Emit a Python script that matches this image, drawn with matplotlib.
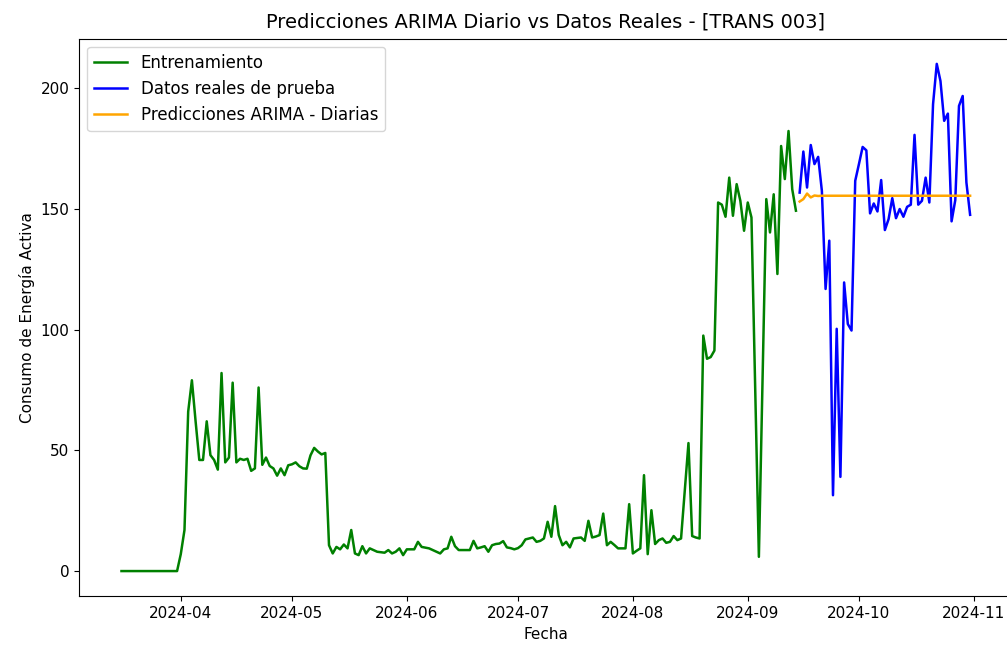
import matplotlib
matplotlib.use("Agg")
import matplotlib.pyplot as plt
import matplotlib.dates as mdates
import pandas as pd

train_start = "2024-03-16"
test_start = "2024-09-15"

train_values = [
    0, 0, 0, 0, 0, 0, 0, 0, 0, 0, 0, 0, 0, 0, 0, 0,
    7, 17, 66, 79, 62, 46, 46, 62, 48, 46, 42, 82, 45, 47, 78, 45,
    46.5, 46, 46.5, 41.5, 42.5, 76, 44, 47, 43.5, 42.5, 39.5, 42.5, 39.7, 43.8,
    44.2, 45, 43.4, 42.5, 42.4, 47.9, 51, 49.5, 48.3, 48.9,
    10.7, 7.3, 10, 9, 11, 9.4, 17, 7.3, 6.6, 10.3, 7.3, 9.4, 8.7, 8, 7.8, 7.6,
    8.7, 7.3, 8, 9.4, 6.6, 9, 9, 9, 12.1, 10, 9.7, 9.4, 8.7, 8, 7.3, 9, 9.4,
    14.2, 10.3, 8.7, 8.7, 8.7, 8.7, 12.5, 9.4, 9.8, 10.3, 8, 10.7, 11.2, 11.4,
    12.4, 9.8, 9.5, 9, 9.5, 10.7, 13.1, 13.5, 13.9, 12.1, 12.5, 13.5, 20.4,
    14.2, 26.9, 14.9, 10.7, 12.1, 9.8, 13.5, 13.7, 13.9, 12.5, 20.8, 13.9,
    14.3, 14.9, 23.8, 10.7, 12.1, 10.8, 9.4, 9.4, 9.4, 27.7, 7.3, 8.4, 9.4,
    39.7, 7, 25.2, 11.2, 12.8, 13.5, 11.7, 12.1, 14.5, 12.8, 13.5, 33, 53,
    14.5, 13.9, 13.5, 97.5, 87.9, 88.6, 91.3, 152.6, 151.7, 146.7, 162.9,
    147.1, 160.2, 153.3, 140.9, 152.6, 146.4, 76, 5.9, 80, 154, 140.2, 156,
    123, 176, 162.3, 182.2, 158.1, 149.2,
]

test_values = [
    156.7, 173.7, 158.8, 176.4, 168.5, 171.5, 157.4, 116.8, 136.8, 31.4,
    100.3, 39.0, 119.5, 102.3, 99.6, 161.6, 168.5, 175.6, 174.2, 148.1,
    152.2, 148.9, 161.9, 141.2, 145.7, 154.4, 146.1, 149.9, 146.7, 150.8,
    151.7, 180.6, 151.7, 153.3, 162.9, 152.6, 193.3, 210.0, 202.9, 186.4,
    189.4, 144.8, 153.6, 192.6, 196.7, 160.9, 147.5,
]

pred_values = [
    153.0, 154.0, 156.3, 154.7, 155.5, 155.3, 155.4, 155.4, 155.4, 155.4,
    155.4, 155.4, 155.4, 155.4, 155.4, 155.4, 155.4, 155.4, 155.4, 155.4,
    155.4, 155.4, 155.4, 155.4, 155.4, 155.4, 155.4, 155.4, 155.4, 155.4,
    155.4, 155.4, 155.4, 155.4, 155.4, 155.4, 155.4, 155.4, 155.4, 155.4,
    155.4, 155.4, 155.4, 155.4, 155.4, 155.4, 155.4,
]

train_dates = pd.date_range(train_start, periods=len(train_values), freq="D")
test_dates = pd.date_range(test_start, periods=len(test_values), freq="D")

fig = plt.figure(figsize=(10.07, 6.45), dpi=100)
ax = fig.add_axes([0.0785, 0.0753, 0.927, 0.865])

ax.plot(train_dates, train_values, color="green", lw=1.8, label="Entrenamiento")
ax.plot(test_dates, test_values, color="blue", lw=1.8, label="Datos reales de prueba")
ax.plot(test_dates, pred_values, color="orange", lw=1.8, label="Predicciones ARIMA - Diarias")

ax.xaxis.set_major_locator(mdates.MonthLocator())
ax.xaxis.set_major_formatter(mdates.DateFormatter("%Y-%m"))

ax.set_title("Predicciones ARIMA Diario vs Datos Reales - [TRANS 003]", fontsize=14, pad=8)
ax.set_xlabel("Fecha", fontsize=11)
ax.set_ylabel("Consumo de Energía Activa", fontsize=11)
ax.tick_params(labelsize=11)
ax.legend(loc="upper left", fontsize=12)

fig.savefig("out.png", dpi=100)
